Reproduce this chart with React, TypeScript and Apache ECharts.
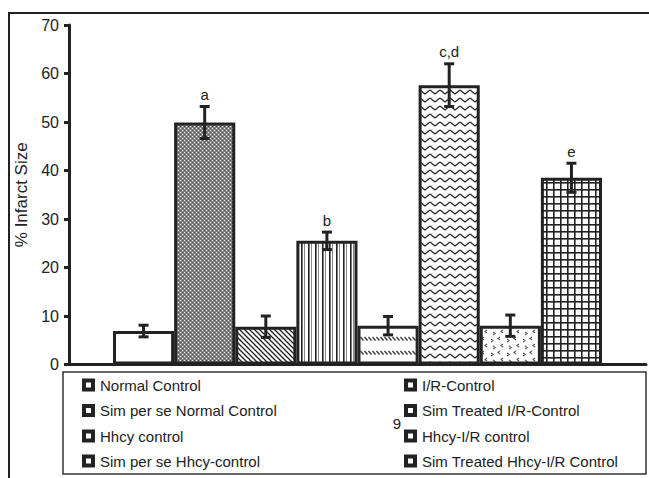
import React, { useEffect, useRef } from "react";
import * as echarts from "echarts";

const seriesNames = [
  "Normal Control",
  "I/R-Control",
  "Sim per se Normal Control",
  "Sim Treated I/R-Control",
  "Hhcy control",
  "Hhcy-I/R control",
  "Sim per se Hhcy-control",
  "Sim Treated Hhcy-I/R Control",
];
const values = [6.9, 49.9, 7.8, 25.5, 8.0, 57.6, 8.0, 38.5];
const errors = [1.2, 3.3, 2.2, 1.8, 1.9, 4.4, 2.2, 3.0];
const sigLabels = ["", "a", "", "b", "", "c,d", "", "e"];
const yTicks = { min: 0, max: 70, interval: 10 };

const FONT = "'Liberation Sans', Arial, sans-serif";
const INK = "#222";
const GAP = 0.1525;

function makePattern(w: number, h: number, draw: (ctx: CanvasRenderingContext2D) => void) {
  const c = document.createElement("canvas");
  c.width = w;
  c.height = h;
  const ctx = c.getContext("2d")!;
  ctx.fillStyle = "#fff";
  ctx.fillRect(0, 0, w, h);
  draw(ctx);
  return { image: c.toDataURL(), repeat: "repeat", imageWidth: w, imageHeight: h } as any;
}

function buildPatterns() {
  const white = "#ffffff";
  const checker = makePattern(4, 4, (ctx) => {
    ctx.fillStyle = "#858585";
    ctx.fillRect(0, 0, 4, 4);
    ctx.fillStyle = "#f4f4f4";
    ctx.fillRect(0, 0, 1, 1);
    ctx.fillRect(2, 2, 1, 1);
    ctx.fillStyle = "#4a4a4a";
    ctx.fillRect(2, 0, 1, 1);
    ctx.fillRect(0, 2, 1, 1);
  });
  const diag = makePattern(5, 5, (ctx) => {
    ctx.strokeStyle = INK;
    ctx.lineWidth = 1.3;
    ctx.beginPath();
    ctx.moveTo(-1, -1);
    ctx.lineTo(6, 6);
    ctx.moveTo(-1, 4);
    ctx.lineTo(1, 6);
    ctx.moveTo(4, -1);
    ctx.lineTo(6, 1);
    ctx.stroke();
  });
  const vert = makePattern(7, 2, (ctx) => {
    ctx.fillStyle = INK;
    ctx.fillRect(0, 0, 1.6, 2);
    ctx.fillStyle = "#888";
    ctx.fillRect(3, 0, 1, 2);
  });
  const dashDiag = makePattern(4, 14, (ctx) => {
    ctx.strokeStyle = "#333";
    ctx.lineWidth = 1.3;
    ctx.beginPath();
    ctx.moveTo(0.5, 1);
    ctx.lineTo(3.5, 4.5);
    ctx.stroke();
  });
  const zig = makePattern(10, 8, (ctx) => {
    ctx.strokeStyle = INK;
    ctx.lineWidth = 1.3;
    ctx.beginPath();
    ctx.moveTo(0, 2);
    ctx.lineTo(5, 6);
    ctx.lineTo(10, 2);
    ctx.stroke();
  });
  const confetti = makePattern(16, 14, (ctx) => {
    ctx.strokeStyle = "#555";
    ctx.lineWidth = 1.1;
    ctx.beginPath();
    ctx.moveTo(4, 1); ctx.lineTo(2, 2.5); ctx.lineTo(4, 4);
    ctx.moveTo(11, 3); ctx.lineTo(13, 4.5); ctx.lineTo(11, 6);
    ctx.moveTo(7, 8); ctx.lineTo(5, 9.5); ctx.lineTo(7, 11);
    ctx.moveTo(13, 10); ctx.lineTo(15, 11.5); ctx.lineTo(13, 13);
    ctx.stroke();
  });
  const grid = makePattern(7, 7, (ctx) => {
    ctx.fillStyle = INK;
    ctx.fillRect(0, 0, 7, 1.6);
    ctx.fillRect(0, 0, 1.6, 7);
  });
  return [white, checker, diag, vert, dashDiag, zig, confetti, grid];
}

const LEGEND_ICON = "path://M0,0H13V13H0Z M4,4V9H9V4Z";

export default function App() {
  const ref = useRef<HTMLDivElement>(null);

  useEffect(() => {
    if (!ref.current) return;
    const chart = echarts.init(ref.current, null, { renderer: "svg" });
    const fills = buildPatterns();

    const barSeries = seriesNames.map((name, i) => ({
      name,
      type: "bar",
      data: [values[i]],
      barGap: "0%",
      barCategoryGap: (GAP * 100).toFixed(2) + "%",
      itemStyle: { color: fills[i], borderColor: INK, borderWidth: 3 },
      z: 2,
    }));

    const errData = values.map((v, i) => [0, v, errors[i]]);

    const rowCenters = [385, 410.5, 436, 461];
    const colLefts = [82, 404];
    const legends = seriesNames.map((name, i) => ({
      show: true,
      data: [name],
      orient: "horizontal",
      left: colLefts[i % 2],
      top: rowCenters[Math.floor(i / 2)] - 7.5,
      padding: 0,
      itemWidth: 13,
      itemHeight: 13,
      icon: LEGEND_ICON,
      selectedMode: false,
      itemStyle: { color: INK, borderWidth: 0 },
      textStyle: { fontSize: 15, color: INK, fontFamily: FONT },
    }));

    chart.setOption({
      animation: false,
      backgroundColor: "#fff",
      textStyle: { fontFamily: FONT },
      grid: { left: 69, right: 3, top: 25, bottom: 113.5, containLabel: false },
      xAxis: {
        type: "category",
        data: [""],
        axisLine: { lineStyle: { color: INK, width: 3 } },
        axisTick: { show: false },
        axisLabel: { show: false },
      },
      yAxis: {
        type: "value",
        min: yTicks.min,
        max: yTicks.max,
        interval: yTicks.interval,
        name: "% Infarct Size",
        nameLocation: "middle",
        nameGap: 38,
        nameRotate: 90,
        nameTextStyle: { fontSize: 17, color: INK, fontFamily: FONT },
        axisLine: { show: true, lineStyle: { color: INK, width: 3 } },
        axisTick: { show: true, length: 5, lineStyle: { color: INK, width: 3 } },
        axisLabel: { fontSize: 16, color: INK, margin: 10, fontFamily: FONT },
        splitLine: { show: false },
      },
      legend: legends,
      series: [
        ...barSeries,
        {
          type: "custom",
          name: "err",
          data: errData,
          z: 5,
          renderItem: (params: any, api: any) => {
            const i = params.dataIndex;
            const v = api.value(1);
            const e = api.value(2);
            const center = api.coord([0, v]);
            const band = api.size([1, 0])[0];
            const bw = (band * (1 - GAP)) / seriesNames.length;
            const x = center[0] + (i - (seriesNames.length - 1) / 2) * bw;
            const top = api.coord([0, v + e])[1];
            const bot = api.coord([0, v - e])[1];
            const st = { stroke: INK, lineWidth: 3 };
            const children: any[] = [
              { type: "line", shape: { x1: x, y1: top, x2: x, y2: bot }, style: st },
              { type: "line", shape: { x1: x - 5, y1: top, x2: x + 5, y2: top }, style: st },
              { type: "line", shape: { x1: x - 5, y1: bot, x2: x + 5, y2: bot }, style: st },
            ];
            if (sigLabels[i]) {
              children.push({
                type: "text",
                x,
                y: top - 12,
                style: {
                  text: sigLabels[i],
                  align: "center",
                  verticalAlign: "middle",
                  fontSize: 15,
                  fill: INK,
                  fontFamily: FONT,
                },
              });
            }
            return { type: "group", children };
          },
        },
      ],
      graphic: [
        {
          type: "rect",
          silent: true,
          z: 0,
          shape: { x: 9, y: 13, width: 700, height: 520 },
          style: { fill: "none", stroke: INK, lineWidth: 2 },
        },
        {
          type: "rect",
          silent: true,
          z: 0,
          shape: { x: 63, y: 372, width: 583, height: 102 },
          style: { fill: "none", stroke: "#333", lineWidth: 1.5 },
        },
        {
          type: "text",
          x: 397,
          y: 423,
          style: {
            text: "9",
            align: "center",
            verticalAlign: "middle",
            fontSize: 15,
            fill: INK,
            fontFamily: FONT,
          },
        },
      ],
    });

    return () => chart.dispose();
  }, []);

  return (
    <div
      ref={ref}
      style={{ position: "fixed", left: 0, top: 0, width: 649, height: 478, background: "#fff" }}
    />
  );
}
